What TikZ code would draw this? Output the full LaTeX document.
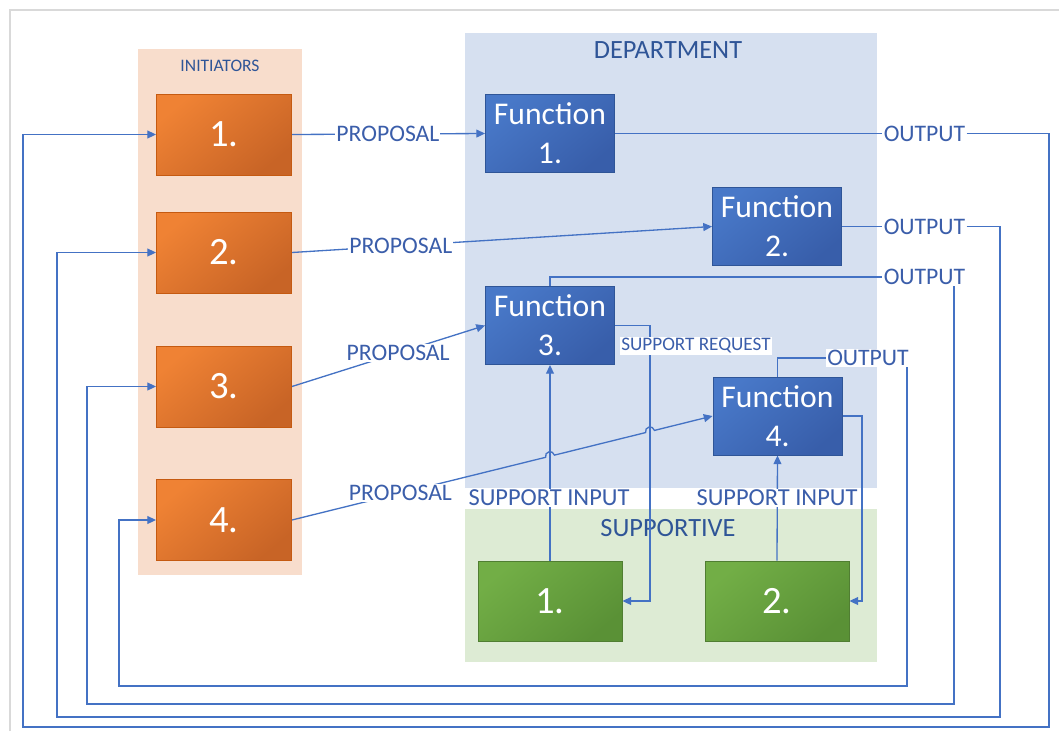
\documentclass[tikz,border=0pt]{standalone}
\usepackage{fontspec}
\setmainfont{Carlito}
\usetikzlibrary{arrows.meta,calc}

\definecolor{framegray}{RGB}{217,217,217}
\definecolor{initbg}{RGB}{248,221,204}
\definecolor{deptbg}{RGB}{214,224,240}
\definecolor{supbg}{RGB}{221,235,212}
\definecolor{oLight}{RGB}{239,130,52}
\definecolor{oDark}{RGB}{200,100,38}
\definecolor{oEdge}{RGB}{197,90,17}
\definecolor{bLight}{RGB}{72,120,200}
\definecolor{bDark}{RGB}{56,94,170}
\definecolor{bEdge}{RGB}{47,85,151}
\definecolor{gLight}{RGB}{114,174,70}
\definecolor{gDark}{RGB}{90,145,54}
\definecolor{gEdge}{RGB}{80,126,50}
\definecolor{lineblue}{RGB}{68,114,196}
\definecolor{txtblue}{RGB}{59,94,170}
\definecolor{ttlblue}{RGB}{47,85,151}

\pgfdeclarelayer{bg}
\pgfdeclarelayer{lines}
\pgfsetlayers{bg,lines,main}

\begin{document}
\begin{tikzpicture}[x=0.02cm,y=-0.02cm,
  panel/.style={rectangle,draw=none,inner sep=0pt},
  ttl/.style={text=ttlblue,inner sep=0pt,font=\fontsize{15}{18}\selectfont},
  obox/.style={rectangle,draw=oEdge,line width=0.5pt,top color=oLight,bottom color=oDark,shading angle=40,
    text=white,inner sep=0pt,minimum width=2.7cm,minimum height=1.62cm,font=\fontsize{22}{26}\selectfont},
  fbox/.style={rectangle,draw=bEdge,line width=0.5pt,top color=bLight,bottom color=bDark,shading angle=40,
    text=white,inner sep=0pt,minimum width=2.58cm,minimum height=1.56cm,align=center,
    font=\fontsize{18}{22}\selectfont},
  gbox/.style={rectangle,draw=gEdge,line width=0.5pt,top color=gLight,bottom color=gDark,shading angle=40,
    text=white,inner sep=0pt,minimum width=2.88cm,minimum height=1.6cm,font=\fontsize{22}{26}\selectfont},
  lbl/.style={fill=white,text=txtblue,inner sep=0.6pt,font=\fontsize{13.5}{16}\selectfont},
  conn/.style={draw=lineblue,line width=0.75pt},
  arr/.style={conn,-{Triangle[length=5pt,width=4.5pt]}}]

\useasboundingbox (0,0) rectangle (1059,731);

% page background, group panels and their titles
\begin{pgfonlayer}{bg}
  \fill[white] (0,0) rectangle (1059,731);
  \draw[framegray,line width=0.8pt] (10,731) -- (10,10) -- (1059,10);
  \node[panel,fill=initbg,minimum width=3.28cm,minimum height=10.52cm] (pinit) at (220,312) {};
  \node[panel,fill=deptbg,minimum width=8.24cm,minimum height=9.10cm] (pdept) at (671,260.5) {};
  \node[panel,fill=supbg,minimum width=8.24cm,minimum height=3.06cm] (psup) at (671,585.5) {};
  \node[ttl,font=\fontsize{10}{12}\selectfont] (tinit) at (220,66) {INITIATORS};
  \node[ttl] (tdept) at (668,50) {DEPARTMENT};
  \node[ttl] (tsup) at (668,528) {SUPPORTIVE};
\end{pgfonlayer}

% initiators
\node[obox] (i1) at (224,134.5) {1.};
\node[obox] (i2) at (224,252.5) {2.};
\node[obox] (i3) at (224,386.5) {3.};
\node[obox] (i4) at (224,520) {4.};

% department functions
\node[fbox] (f1) at (550,133.5) {Function\\1.};
\node[fbox] (f2) at (777,226.5) {Function\\2.};
\node[fbox] (f3) at (550,325.5) {Function\\3.};
\node[fbox] (f4) at (777.5,416) {Function\\4.};

% supportive units
\node[gbox] (s1) at (550,601) {1.};
\node[gbox] (s2) at (777,601) {2.};

% connector labels
\node[lbl] (p1) at ($(i1.east)!0.497!(f1.west)$) {PROPOSAL};
\node[lbl] (p2) at ($(i2.east)!0.259!(f2.west)$) {PROPOSAL};
\node[lbl] (p3) at ($(i3.east)!0.55!(f3.west)$) {PROPOSAL};
\node[lbl] (p4) at ($(i4.east)!0.258!(f4.west)$) {PROPOSAL};
\node[lbl] (o1) at (924.5,133.5) {OUTPUT};
\node[lbl] (o2) at (924.5,226.5) {OUTPUT};
\node[lbl] (o3) at (924.5,277) {OUTPUT};
\node[lbl] (o4) at (868,358) {OUTPUT};
\node[lbl,font=\fontsize{13.9}{16}\selectfont] (q1) at (549,498) {SUPPORT INPUT};
\node[lbl,font=\fontsize{13.9}{16}\selectfont] (q2) at (777,498) {SUPPORT INPUT};
\node[lbl,font=\fontsize{10.9}{12}\selectfont] (rq) at (696,346) {SUPPORT REQUEST};

% routing points
\coordinate (r1) at (1049,727); \coordinate (l1) at (23,727);
\coordinate (r2) at (1000,717); \coordinate (l2) at (57,717);
\coordinate (r3) at (954,704);  \coordinate (l3) at (87,704);
\coordinate (r4) at (907,686);  \coordinate (l4) at (119,686);
\coordinate (k1) at (650,601);  \coordinate (k2) at (862,601);
\coordinate (k1t) at (f3.east -| k1);

% line hops where proposal 4 crosses the support lines
\coordinate (x1) at (intersection of i4.east--f4.west and s1.north--f3.south);
\coordinate (x2) at (intersection of i4.east--f4.west and k1--k1t);
\coordinate (h1a) at ($(x1)!2.6pt!(i4.east)$);
\coordinate (h1b) at ($(x1)!2.6pt!(f4.west)$);
\coordinate (h1c) at ($(h1a)!3.4pt!90:(x1)$);
\coordinate (h1d) at ($(h1b)!3.4pt!-90:(x1)$);
\coordinate (h2a) at ($(x2)!2.6pt!(i4.east)$);
\coordinate (h2b) at ($(x2)!2.6pt!(f4.west)$);
\coordinate (h2c) at ($(h2a)!3.4pt!90:(x2)$);
\coordinate (h2d) at ($(h2b)!3.4pt!-90:(x2)$);

\begin{pgfonlayer}{lines}
  % proposals
  \draw[arr] (i1.east) -- (f1.west);
  \draw[arr] (i2.east) -- (f2.west);
  \draw[arr] (i3.east) -- (f3.west);
  \draw[arr] (i4.east) -- (h1a) .. controls (h1c) and (h1d) .. (h1b)
             -- (h2a) .. controls (h2c) and (h2d) .. (h2b) -- (f4.west);
  % outputs fed back to the initiators
  \draw[conn] (f1.east) -- (o1.west);
  \draw[arr] (o1.east) -| (r1) -- (l1) |- (i1.west);
  \draw[conn] (f2.east) -- (o2.west);
  \draw[arr] (o2.east) -| (r2) -- (l2) |- (i2.west);
  \draw[conn] (f3.north) |- (o3.west);
  \draw[arr] (o3.south -| r3) -- (r3) -- (l3) |- (i3.west);
  \draw[conn] (f4.north) |- (o4.west);
  \draw[arr] (o4.south -| r4) -- (r4) -- (l4) |- (i4.west);
  % support requests and inputs
  \draw[arr] (f3.east) -| (k1) -- (s1.east);
  \draw[arr] (f4.east) -| (k2) -- (s2.east);
  \draw[arr] (s1.north) -- (f3.south);
  \draw[arr] (s2.north) -- (f4.south);
\end{pgfonlayer}
\end{tikzpicture}
\end{document}
